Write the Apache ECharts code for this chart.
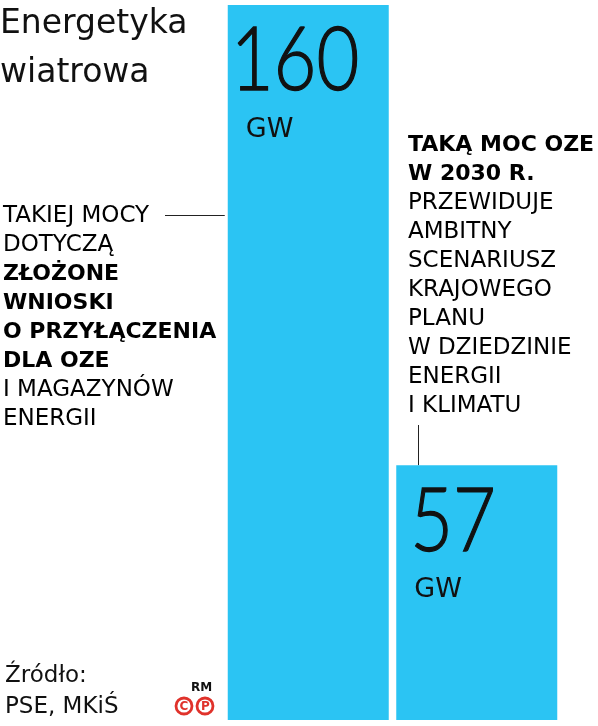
<!DOCTYPE html>
<html>
<head>
<meta charset="utf-8">
<script src="https://cdn.jsdelivr.net/npm/echarts@6/dist/echarts.min.js"></script>
<style>
  html, body { margin: 0; padding: 0; background: #fff; }
  #chart { width: 598px; height: 726px; }
</style>
</head>
<body>
<div id="chart"></div>
<script>
const categories = ['Wnioski o przyłączenia', 'Scenariusz KPEiK 2030']
const values = [160, 57]
const unit = 'GW'

const leftNote = [
  ['n', 'TAKIEJ MOCY'],
  ['n', 'DOTYCZĄ'],
  ['b', 'ZŁOŻONE'],
  ['b', 'WNIOSKI'],
  ['b', 'O PRZYŁĄCZENIA'],
  ['b', 'DLA OZE'],
  ['n', 'I MAGAZYNÓW'],
  ['n', 'ENERGII']
]
const rightNote = [
  ['b', 'TAKĄ MOC OZE'],
  ['b', 'W 2030 R.'],
  ['n', 'PRZEWIDUJE'],
  ['n', 'AMBITNY'],
  ['n', 'SCENARIUSZ'],
  ['n', 'KRAJOWEGO'],
  ['n', 'PLANU'],
  ['n', 'W DZIEDZINIE'],
  ['n', 'ENERGII'],
  ['n', 'I KLIMATU']
]

const FONT = '"DejaVu Sans", sans-serif'
const NUM_FONT = 'Lato, "Open Sans", sans-serif'
const BLUE = '#2BC4F3'
const INK = '#111'
const RED = '#E0322B'
const BAR_W = 161

const noteRich = {
  n: { fontFamily: FONT, fontSize: 23, fontWeight: 'normal', color: INK, lineHeight: 29 },
  b: { fontFamily: FONT, fontSize: 22, fontWeight: 'bold', color: INK, lineHeight: 29 }
}
const noteText = lines => lines.map(([s, t]) => `{${s}|${t}}`).join('\n')

const chart = echarts.init(document.getElementById('chart'))

const option = {
  animation: false,
  title: {
    text: 'Energetyka\nwiatrowa',
    left: 0,
    top: 0,
    padding: [0, 0, 0, 0],
    textStyle: { fontFamily: FONT, fontSize: 33, fontWeight: 'normal', color: INK, lineHeight: 49 }
  },
  grid: { left: 224, right: 37, top: 5, bottom: 6 },
  xAxis: {
    type: 'category',
    data: categories,
    show: false
  },
  yAxis: {
    type: 'value',
    min: 0,
    max: 160,
    show: false
  },
  series: [{
    type: 'bar',
    barWidth: BAR_W,
    itemStyle: { color: BLUE },
    data: values,
    label: {
      show: true,
      position: 'insideTopLeft',
      distance: 0,
      offset: [18, 111],
      formatter: unit,
      fontFamily: FONT,
      fontSize: 27,
      color: INK
    }
  }],
  graphic: [
    {
      type: 'text', left: 3, top: 205,
      style: { text: noteText(leftNote), rich: noteRich }
    },
    {
      type: 'text', left: 408, top: 134,
      style: { text: noteText(rightNote), rich: noteRich }
    },
    {
      type: 'text', left: 5, top: 661,
      style: { text: 'Źródło:\nPSE, MKiŚ', fontFamily: FONT, fontSize: 23, lineHeight: 31, fill: INK }
    },
    {
      type: 'text', left: 191, top: 682,
      style: { text: 'RM', fontFamily: FONT, fontSize: 12, fontWeight: 'bold', fill: INK }
    },
    {
      type: 'circle', shape: { cx: 184, cy: 706, r: 8 },
      style: { fill: 'none', stroke: RED, lineWidth: 2.8 }
    },
    {
      type: 'circle', shape: { cx: 205, cy: 706, r: 8 },
      style: { fill: 'none', stroke: RED, lineWidth: 2.8 }
    },
    {
      type: 'text', x: 184, y: 707,
      style: { text: 'C', fontFamily: FONT, fontSize: 12, fontWeight: 'bold', fill: RED, align: 'center', verticalAlign: 'middle' }
    },
    {
      type: 'text', x: 205.5, y: 707,
      style: { text: 'P', fontFamily: FONT, fontSize: 12, fontWeight: 'bold', fill: RED, align: 'center', verticalAlign: 'middle' }
    }
  ]
}

chart.setOption(option)

// big values and connector lines, anchored to bar tops through the axis scales
const tops = values.map((v, i) => chart.convertToPixel({ seriesIndex: 0 }, [i, v]))
const numIndent = [3, 14]
const extra = values.map((v, i) => ({
  type: 'text', id: 'num' + i,
  z: 100,
  x: tops[i][0] - BAR_W / 2 + numIndent[i],
  y: tops[i][1] + 57,
  scaleX: 0.84,
  style: {
    text: String(v), fontFamily: NUM_FONT, fontSize: 88, fontWeight: 300,
    fill: INK, stroke: INK, lineWidth: 1.3, align: 'left', verticalAlign: 'middle'
  }
}))
extra.push(
  {
    type: 'line', id: 'c1',
    shape: { x1: 165, y1: 215.5, x2: tops[0][0] - BAR_W / 2 - 3, y2: 215.5 },
    style: { stroke: '#222', lineWidth: 1 }
  },
  {
    type: 'line', id: 'c2',
    shape: { x1: 418.5, y1: 425, x2: 418.5, y2: tops[1][1] },
    style: { stroke: '#222', lineWidth: 1 }
  }
)
chart.setOption({ graphic: option.graphic.concat(extra) })
</script>
</body>
</html>
